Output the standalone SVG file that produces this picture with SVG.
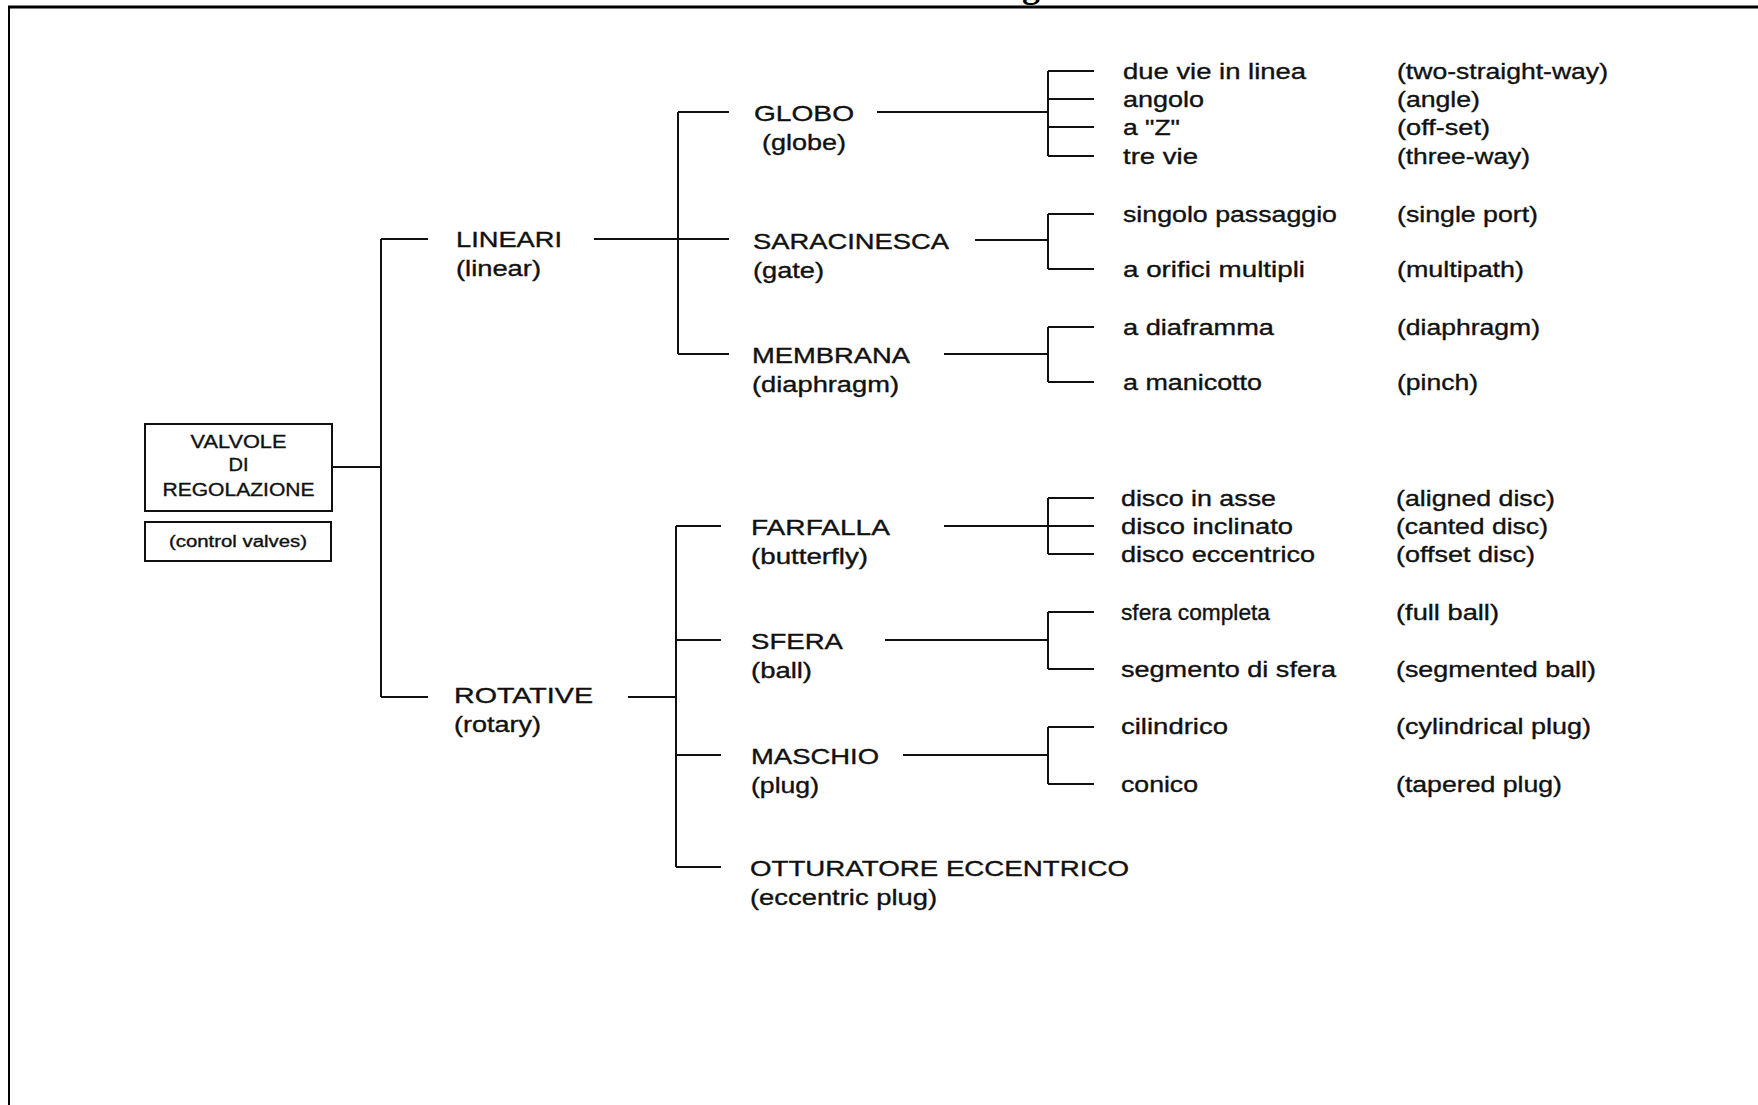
<svg xmlns="http://www.w3.org/2000/svg" width="1758" height="1105" viewBox="0 0 1758 1105">
  <style>
    text { font-family: "Liberation Sans", Arial, sans-serif; font-size: 22px; fill: #111; stroke: #111; stroke-width: 0.35; }
    .box text { font-size: 18px; }
    .box text.note { font-size: 16px; }
    .box rect { fill: #fff; stroke: #111; stroke-width: 2; }
    .wire { stroke: #111; stroke-width: 2; fill: none; }
    .frame { stroke: #000; fill: none; }
    .title { font-family: "Liberation Serif", "Times New Roman", serif; font-size: 36px; font-weight: bold; fill: #000; stroke: none; }
  </style>

  <!-- page frame and the cut-off title above it -->
  <text class="title" x="1022" y="-3">g</text>
  <path class="frame" d="M8,7 H1758" stroke-width="3"/>
  <path class="frame" d="M9,6 V1105" stroke-width="2"/>

  <!-- connectors -->
  <g id="connectors" class="wire">
    <!-- root to main families -->
    <path d="M332,467 H381 M381,239 V697 M381,239 H428 M381,697 H428"/>
    <!-- linear family -->
    <path d="M594,239 H729 M678,112 V354 M678,112 H729 M678,354 H729"/>
    <!-- rotary family -->
    <path d="M628,697 H676 M676,526 V867 M676,526 H721 M676,640 H721 M676,755 H721 M676,867 H721"/>
    <!-- globe -->
    <path d="M877,112 H1048 M1048,71 V156 M1048,71 H1094 M1048,99 H1094 M1048,127 H1094 M1048,156 H1094"/>
    <!-- gate -->
    <path d="M975,240 H1048 M1048,214 V269 M1048,214 H1094 M1048,269 H1094"/>
    <!-- diaphragm -->
    <path d="M944,354 H1048 M1048,327 V382 M1048,327 H1094 M1048,382 H1094"/>
    <!-- butterfly -->
    <path d="M944,526 H1048 M1048,498 V554 M1048,498 H1094 M1048,526 H1094 M1048,554 H1094"/>
    <!-- ball -->
    <path d="M885,640 H1048 M1048,612 V669 M1048,612 H1094 M1048,669 H1094"/>
    <!-- plug -->
    <path d="M903,755 H1048 M1048,727 V784 M1048,727 H1094 M1048,784 H1094"/>
  </g>

  <!-- root -->
  <g id="root" class="box">
    <rect x="145" y="424" width="187" height="87"/>
    <text x="238.5" y="448" text-anchor="middle" textLength="96" lengthAdjust="spacingAndGlyphs">VALVOLE</text>
    <text x="238.5" y="471" text-anchor="middle" textLength="20" lengthAdjust="spacingAndGlyphs">DI</text>
    <text x="238.5" y="496" text-anchor="middle" textLength="152" lengthAdjust="spacingAndGlyphs">REGOLAZIONE</text>
  </g>
  <g id="root-en" class="box">
    <rect x="145" y="522" width="186" height="39"/>
    <text class="note" x="238" y="547" text-anchor="middle" textLength="138" lengthAdjust="spacingAndGlyphs">(control valves)</text>
  </g>

  <!-- main families -->
  <g id="lineari">
    <text x="456" y="247" textLength="106" lengthAdjust="spacingAndGlyphs">LINEARI</text>
    <text x="456" y="276" textLength="85" lengthAdjust="spacingAndGlyphs">(linear)</text>
  </g>
  <g id="rotative">
    <text x="454" y="703" textLength="139" lengthAdjust="spacingAndGlyphs">ROTATIVE</text>
    <text x="454" y="732" textLength="87" lengthAdjust="spacingAndGlyphs">(rotary)</text>
  </g>

  <!-- linear types -->
  <g id="globo">
    <text x="754" y="121" textLength="100" lengthAdjust="spacingAndGlyphs">GLOBO</text>
    <text x="762" y="150" textLength="84" lengthAdjust="spacingAndGlyphs">(globe)</text>
  </g>
  <g id="saracinesca">
    <text x="753" y="249" textLength="196" lengthAdjust="spacingAndGlyphs">SARACINESCA</text>
    <text x="753" y="278" textLength="71" lengthAdjust="spacingAndGlyphs">(gate)</text>
  </g>
  <g id="membrana">
    <text x="752" y="363" textLength="158" lengthAdjust="spacingAndGlyphs">MEMBRANA</text>
    <text x="752" y="392" textLength="147" lengthAdjust="spacingAndGlyphs">(diaphragm)</text>
  </g>

  <!-- rotary types -->
  <g id="farfalla">
    <text x="751" y="535" textLength="139" lengthAdjust="spacingAndGlyphs">FARFALLA</text>
    <text x="751" y="564" textLength="117" lengthAdjust="spacingAndGlyphs">(butterfly)</text>
  </g>
  <g id="sfera">
    <text x="751" y="649" textLength="92" lengthAdjust="spacingAndGlyphs">SFERA</text>
    <text x="751" y="678" textLength="61" lengthAdjust="spacingAndGlyphs">(ball)</text>
  </g>
  <g id="maschio">
    <text x="751" y="764" textLength="128" lengthAdjust="spacingAndGlyphs">MASCHIO</text>
    <text x="751" y="793" textLength="68" lengthAdjust="spacingAndGlyphs">(plug)</text>
  </g>
  <g id="otturatore">
    <text x="750" y="876" textLength="379" lengthAdjust="spacingAndGlyphs">OTTURATORE ECCENTRICO</text>
    <text x="750" y="905" textLength="187" lengthAdjust="spacingAndGlyphs">(eccentric plug)</text>
  </g>

  <!-- globe variants -->
  <g id="globo-due-vie">
    <text x="1123" y="79" textLength="183" lengthAdjust="spacingAndGlyphs">due vie in linea</text>
    <text x="1397" y="79" textLength="211" lengthAdjust="spacingAndGlyphs">(two-straight-way)</text>
  </g>
  <g id="globo-angolo">
    <text x="1123" y="107" textLength="81" lengthAdjust="spacingAndGlyphs">angolo</text>
    <text x="1397" y="107" textLength="83" lengthAdjust="spacingAndGlyphs">(angle)</text>
  </g>
  <g id="globo-z">
    <text x="1123" y="135" textLength="57" lengthAdjust="spacingAndGlyphs">a "Z"</text>
    <text x="1397" y="135" textLength="93" lengthAdjust="spacingAndGlyphs">(off-set)</text>
  </g>
  <g id="globo-tre-vie">
    <text x="1123" y="164" textLength="75" lengthAdjust="spacingAndGlyphs">tre vie</text>
    <text x="1397" y="164" textLength="133" lengthAdjust="spacingAndGlyphs">(three-way)</text>
  </g>

  <!-- gate variants -->
  <g id="gate-singolo">
    <text x="1123" y="222" textLength="214" lengthAdjust="spacingAndGlyphs">singolo passaggio</text>
    <text x="1397" y="222" textLength="141" lengthAdjust="spacingAndGlyphs">(single port)</text>
  </g>
  <g id="gate-multipli">
    <text x="1123" y="277" textLength="182" lengthAdjust="spacingAndGlyphs">a orifici multipli</text>
    <text x="1397" y="277" textLength="127" lengthAdjust="spacingAndGlyphs">(multipath)</text>
  </g>

  <!-- diaphragm variants -->
  <g id="membrana-diaframma">
    <text x="1123" y="335" textLength="151" lengthAdjust="spacingAndGlyphs">a diaframma</text>
    <text x="1397" y="335" textLength="143" lengthAdjust="spacingAndGlyphs">(diaphragm)</text>
  </g>
  <g id="membrana-manicotto">
    <text x="1123" y="390" textLength="139" lengthAdjust="spacingAndGlyphs">a manicotto</text>
    <text x="1397" y="390" textLength="81" lengthAdjust="spacingAndGlyphs">(pinch)</text>
  </g>

  <!-- butterfly variants -->
  <g id="farfalla-asse">
    <text x="1121" y="506" textLength="155" lengthAdjust="spacingAndGlyphs">disco in asse</text>
    <text x="1396" y="506" textLength="159" lengthAdjust="spacingAndGlyphs">(aligned disc)</text>
  </g>
  <g id="farfalla-inclinato">
    <text x="1121" y="534" textLength="172" lengthAdjust="spacingAndGlyphs">disco inclinato</text>
    <text x="1396" y="534" textLength="152" lengthAdjust="spacingAndGlyphs">(canted disc)</text>
  </g>
  <g id="farfalla-eccentrico">
    <text x="1121" y="562" textLength="194" lengthAdjust="spacingAndGlyphs">disco eccentrico</text>
    <text x="1396" y="562" textLength="139" lengthAdjust="spacingAndGlyphs">(offset disc)</text>
  </g>

  <!-- ball variants -->
  <g id="sfera-completa">
    <text x="1121" y="620" textLength="149" lengthAdjust="spacingAndGlyphs">sfera completa</text>
    <text x="1396" y="620" textLength="103" lengthAdjust="spacingAndGlyphs">(full ball)</text>
  </g>
  <g id="sfera-segmento">
    <text x="1121" y="677" textLength="215" lengthAdjust="spacingAndGlyphs">segmento di sfera</text>
    <text x="1396" y="677" textLength="200" lengthAdjust="spacingAndGlyphs">(segmented ball)</text>
  </g>

  <!-- plug variants -->
  <g id="maschio-cilindrico">
    <text x="1121" y="734" textLength="107" lengthAdjust="spacingAndGlyphs">cilindrico</text>
    <text x="1396" y="734" textLength="195" lengthAdjust="spacingAndGlyphs">(cylindrical plug)</text>
  </g>
  <g id="maschio-conico">
    <text x="1121" y="792" textLength="77" lengthAdjust="spacingAndGlyphs">conico</text>
    <text x="1396" y="792" textLength="166" lengthAdjust="spacingAndGlyphs">(tapered plug)</text>
  </g>
</svg>
